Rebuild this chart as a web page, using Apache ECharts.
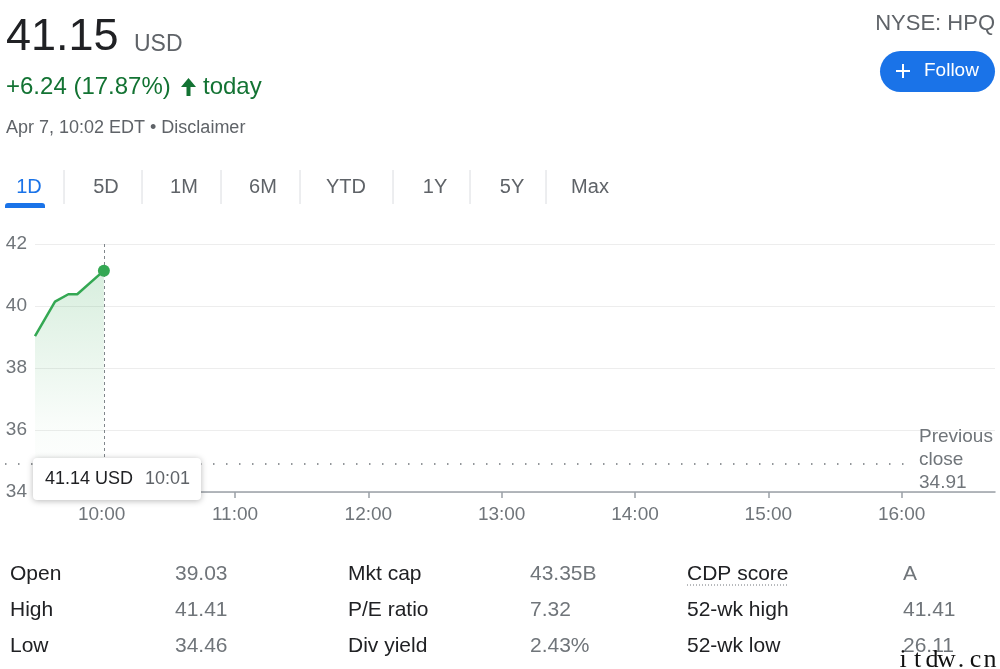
<!DOCTYPE html>
<html>
<head>
<meta charset="utf-8">
<script src="https://cdn.jsdelivr.net/npm/echarts@6/dist/echarts.min.js"></script>
<style>
  html, body { margin: 0; padding: 0; background: #fff; }
  #chart { width: 1000px; height: 669px; }
</style>
</head>
<body>
<div id="chart"></div>
<script>
// ---- Data ----
const times = ['09:30', '09:39', '09:45', '09:49', '10:01'];
const prices = [39.03, 40.14, 40.38, 40.38, 41.14];
const previousClose = 34.91;
const hourLabels = ['10:00', '11:00', '12:00', '13:00', '14:00', '15:00', '16:00'];
const currentPrice = '41.15';
const currency = 'USD';
const changeText = '+6.24 (17.87%)';
const dateText = 'Apr 7, 10:02 EDT \u2022 Disclaimer';
const ticker = 'NYSE: HPQ';
const hoverPrice = '41.14 USD';
const hoverTime = '10:01';
const tabs = ['1D', '5D', '1M', '6M', 'YTD', '1Y', '5Y', 'Max'];
const statLabels1 = ['Open', 'High', 'Low'];
const statValues1 = ['39.03', '41.41', '34.46'];
const statLabels2 = ['Mkt cap', 'P/E ratio', 'Div yield'];
const statValues2 = ['43.35B', '7.32', '2.43%'];
const statLabels3 = ['CDP score', '52-wk high', '52-wk low'];
const statValues3 = ['A', '41.41', '26.11'];
const watermark = 'itdw.cn';

// ---- Helpers ----
const toMin = s => { const p = s.split(':'); return (+p[0]) * 60 + (+p[1]); };
const fmtMin = v => { const h = Math.floor(v / 60), m = Math.round(v % 60); return h + ':' + (m < 10 ? '0' : '') + m; };
const FONT = '"Liberation Sans", Arial, sans-serif';
const seriesData = times.map((t, i) => {
  const item = { value: [toMin(t), prices[i]] };
  if (i === times.length - 1) { item.symbol = 'circle'; item.symbolSize = 12; }
  else { item.symbol = 'none'; }
  return item;
});
const hourValues = hourLabels.map(toMin);
const lastX = toMin(times[times.length - 1]);

// ---- Graphic elements (page text) ----
const g = [];
const txt = (text, x, y, size, fill, extra, z) => g.push(Object.assign({
  type: 'text', z: z || 100,
  style: Object.assign({ text: text, x: x, y: y, font: size + 'px ' + FONT, fill: fill, verticalAlign: 'middle', textAlign: 'left' }, extra || {})
}));
txt(currentPrice, 6, 38, 45, '#202124');
txt(currency, 134, 45, 23, '#5f6368');
txt(changeText, 6, 87, 24, '#137333');
// solid up arrow
g.push({ type: 'polygon', z: 100, shape: { points: [[188.5, 78], [181, 87], [186.5, 87], [186.5, 96], [190.5, 96], [190.5, 87], [196, 87]] }, style: { fill: '#137333' } });
txt('today', 203, 87, 24, '#137333');
txt(dateText, 6, 128, 18, '#5f6368');
txt(ticker, 995, 24, 22, '#5f6368', { textAlign: 'right' });
g.push({ type: 'rect', z: 100, shape: { x: 880, y: 51, width: 115, height: 41, r: 20.5 }, style: { fill: '#1a73e8' } });
g.push({ type: 'line', z: 101, shape: { x1: 896, y1: 71, x2: 910, y2: 71 }, style: { stroke: '#fff', lineWidth: 2 } });
g.push({ type: 'line', z: 101, shape: { x1: 903, y1: 64, x2: 903, y2: 78 }, style: { stroke: '#fff', lineWidth: 2 } });
txt('Follow', 924, 71, 19, '#ffffff');

// tabs
const tabCenters = [29, 106, 184, 263, 346, 435, 512, 590];
const seps = [64, 142, 221, 300, 393, 470, 546];
tabs.forEach((t, i) => txt(t, tabCenters[i], 187, 20, i === 0 ? '#1a73e8' : '#5f6368', { textAlign: 'center' }));
seps.forEach(x => g.push({ type: 'line', z: 100, shape: { x1: x, y1: 170, x2: x, y2: 204 }, style: { stroke: '#dadce0', lineWidth: 1 } }));
g.push({ type: 'rect', z: 100, shape: { x: 5, y: 203, width: 40, height: 5, r: [3, 3, 0, 0] }, style: { fill: '#1a73e8' } });

// stats
const rowsY = [574, 610, 646];
[[statLabels1, statValues1, 10, 175], [statLabels2, statValues2, 348, 530], [statLabels3, statValues3, 687, 903]].forEach(c => {
  c[0].forEach((l, i) => txt(l, c[2], rowsY[i], 21, '#202124'));
  c[1].forEach((v, i) => txt(v, c[3], rowsY[i], 21, '#70757a'));
});
g.push({ type: 'line', z: 100, shape: { x1: 687, y1: 585, x2: 788, y2: 585 }, style: { stroke: '#70757a', lineWidth: 1, lineDash: [1, 2] } });

// hover tooltip box
g.push({ type: 'rect', z: 200, shape: { x: 33, y: 458, width: 168, height: 42, r: 4 },
  style: { fill: '#ffffff', shadowBlur: 6, shadowColor: 'rgba(0,0,0,0.28)', shadowOffsetY: 1 } });
txt(hoverPrice, 45, 479, 18, '#202124', {}, 201);
txt(hoverTime, 145, 479, 18, '#5f6368', {}, 201);

// watermark (spaced letters)
watermark.split('').forEach((ch, i) => txt(ch, 903 + i * 14.5, 660, 26, '#111111', { font: '26px "Liberation Serif", serif', textAlign: 'center' }, 300));

// ---- Chart ----
const chart = echarts.init(document.getElementById('chart'), null, { renderer: 'canvas' });
chart.setOption({
  animation: false,
  backgroundColor: '#ffffff',
  grid: { left: 35, right: 5, top: 244, bottom: 177, containLabel: false },
  xAxis: {
    type: 'value', min: 570, max: 1002,
    axisLine: { show: true, lineStyle: { color: '#9aa0a6', width: 1.5 } },
    axisTick: { show: true, customValues: hourValues, length: 6, lineStyle: { color: '#9aa0a6', width: 1.5 } },
    axisLabel: { customValues: hourValues, formatter: v => fmtMin(v), color: '#70757a', fontSize: 19, fontFamily: FONT, margin: 13 },
    splitLine: { show: false }
  },
  yAxis: {
    type: 'value', min: 34, max: 42, interval: 2,
    axisLine: { show: false }, axisTick: { show: false },
    axisLabel: { color: '#70757a', fontSize: 19, fontFamily: FONT, margin: 8 },
    splitLine: { show: true, lineStyle: { color: '#ededed', width: 1 } }
  },
  series: [{
    type: 'line',
    clip: false,
    data: seriesData,
    lineStyle: { color: '#34a853', width: 2.5 },
    itemStyle: { color: '#34a853' },
    areaStyle: {
      color: new echarts.graphic.LinearGradient(0, 0, 0, 1, [
        { offset: 0, color: 'rgba(52,168,83,0.28)' },
        { offset: 0.7, color: 'rgba(52,168,83,0.04)' },
        { offset: 1, color: 'rgba(52,168,83,0)' }
      ])
    },
    z: 5,
    markLine: {
      silent: true,
      symbol: 'none',
      animation: false,
      data: [
        [{ x: 5, yAxis: previousClose, lineStyle: { color: '#70757a', width: 1.5, type: [1.5, 11.5] },
           label: { show: true, position: 'end', distance: 9,
                    formatter: '{t|Previous}\n{t|close}\n{t|' + previousClose.toFixed(2) + '}\n{s|}',
                    rich: { t: { color: '#70757a', fontSize: 19, lineHeight: 23, fontFamily: FONT }, s: { height: 9, lineHeight: 9, fontSize: 1 } },
                    align: 'left' } },
         { x: 910, yAxis: previousClose }],
        [{ xAxis: lastX, yAxis: 42, lineStyle: { color: '#80868b', width: 1, type: [3, 3] }, label: { show: false } },
         { xAxis: lastX, yAxis: 34 }]
      ]
    }
  }],
  graphic: g
});
</script>
</body>
</html>
